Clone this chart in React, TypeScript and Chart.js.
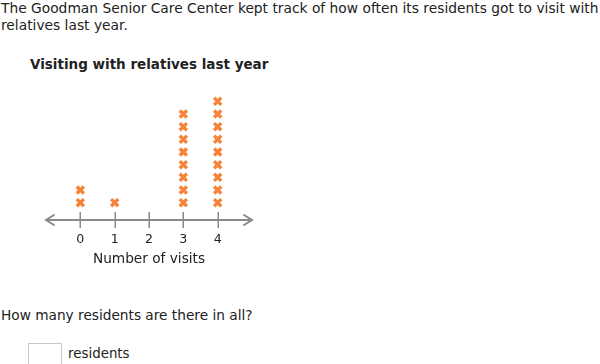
import React, { useEffect, useRef } from "react";
import { Chart, registerables } from "chart.js";

Chart.register(...registerables);

// Line plot data: number of visits and how many residents had each count
const visitValues = [0, 1, 2, 3, 4];
const residentCounts = [2, 1, 0, 8, 9];
const tickLabels = ["0", "1", "2", "3", "4"];

const MARK_COLOR = "#f5843a";
const AXIS_COLOR = "#8a8a8a";
const FONT = "'DejaVu Sans', Verdana, sans-serif";

// One stacked X per resident above its visit count
const markPoints = visitValues.flatMap((v, i) =>
  Array.from({ length: residentCounts[i] }, (_, k) => ({ x: v, y: k + 1 }))
);

const numberLinePlugin = {
  id: "numberLine",
  beforeDatasetsDraw(chart: any) {
    const { ctx, chartArea, scales } = chart;
    const x = scales.x;
    const y0 = chartArea.bottom;
    const left = chartArea.left;
    const right = chartArea.right;
    ctx.save();
    ctx.strokeStyle = AXIS_COLOR;
    ctx.lineWidth = 2;
    ctx.lineCap = "round";
    ctx.beginPath();
    ctx.moveTo(left, y0);
    ctx.lineTo(right, y0);
    // arrowheads
    ctx.moveTo(left + 8, y0 - 5);
    ctx.lineTo(left, y0);
    ctx.lineTo(left + 8, y0 + 5);
    ctx.moveTo(right - 8, y0 - 5);
    ctx.lineTo(right, y0);
    ctx.lineTo(right - 8, y0 + 5);
    ctx.stroke();
    ctx.lineWidth = 1.5;
    ctx.lineCap = "butt";
    ctx.beginPath();
    visitValues.forEach((v) => {
      const px = Math.round(x.getPixelForValue(v)) + 0.25;
      ctx.moveTo(px, y0 - 8);
      ctx.lineTo(px, y0 + 8);
    });
    ctx.stroke();
    ctx.restore();
  },
};

function LinePlot() {
  const ref = useRef<HTMLCanvasElement>(null);
  useEffect(() => {
    if (!ref.current) return;
    const chart = new Chart(ref.current, {
      type: "scatter",
      data: {
        datasets: [
          {
            data: markPoints,
            pointStyle: "crossRot",
            pointRadius: 5,
            pointHoverRadius: 5,
            pointBorderWidth: 3.4,
            borderColor: MARK_COLOR,
            backgroundColor: MARK_COLOR,
          },
        ],
      },
      options: {
        animation: false,
        responsive: false,
        events: [],
        layout: { padding: { left: 46, right: 48, top: 6, bottom: 0 } },
        plugins: {
          legend: { display: false },
          tooltip: { enabled: false },
          title: { display: false },
        },
        scales: {
          x: {
            type: "linear",
            min: -1,
            max: 5,
            afterBuildTicks: (s: any) => {
              s.ticks = visitValues.map((v) => ({ value: v }));
            },
            afterFit: (s: any) => {
              s.height = 50;
            },
            ticks: {
              padding: 12.5,
              color: "#222",
              font: { family: FONT, size: 12.6 },
              callback: (v: any) => tickLabels[visitValues.indexOf(Number(v))] ?? "",
            },
            grid: { display: false, drawTicks: false },
            border: { display: false },
            title: {
              display: true,
              text: "Number of visits",
              color: "#222",
              font: { family: FONT, size: 13.7 },
              padding: { top: 2, bottom: 2 },
            },
          },
          y: {
            display: false,
            min: -0.37,
            max: 10.02,
          },
        },
      },
      plugins: [numberLinePlugin],
    });
    return () => chart.destroy();
  }, []);
  return (
    <canvas
      ref={ref}
      width={300}
      height={190}
      style={{ position: "absolute", left: 0, top: 80, width: 300, height: 190 }}
    />
  );
}

export default function App() {
  const text: React.CSSProperties = {
    position: "absolute",
    fontFamily: FONT,
    fontSize: 13.8,
    color: "#222",
    margin: 0,
    whiteSpace: "nowrap",
  };
  return (
    <div style={{ position: "absolute", left: 0, top: 0, width: 600, height: 364, overflow: "hidden", background: "#fff" }}>
      <div style={{ ...text, left: 1, top: 0, lineHeight: "17px" }}>
        The Goodman Senior Care Center kept track of how often its residents got to visit with
        <br />
        relatives last year.
      </div>
      <div style={{ ...text, left: 30, top: 56, fontSize: 13.5, fontWeight: "bold", lineHeight: "17px" }}>
        Visiting with relatives last year
      </div>
      <LinePlot />
      <div style={{ ...text, left: 1, top: 307, fontSize: 13.7, lineHeight: "17px" }}>
        How many residents are there in all?
      </div>
      <div
        style={{
          position: "absolute",
          left: 28,
          top: 343,
          width: 34,
          height: 22,
          border: "1px solid #c8c8c8",
          boxSizing: "border-box",
        }}
      />
      <div style={{ ...text, left: 68, top: 345, fontSize: 13.4, lineHeight: "17px" }}>residents</div>
    </div>
  );
}
